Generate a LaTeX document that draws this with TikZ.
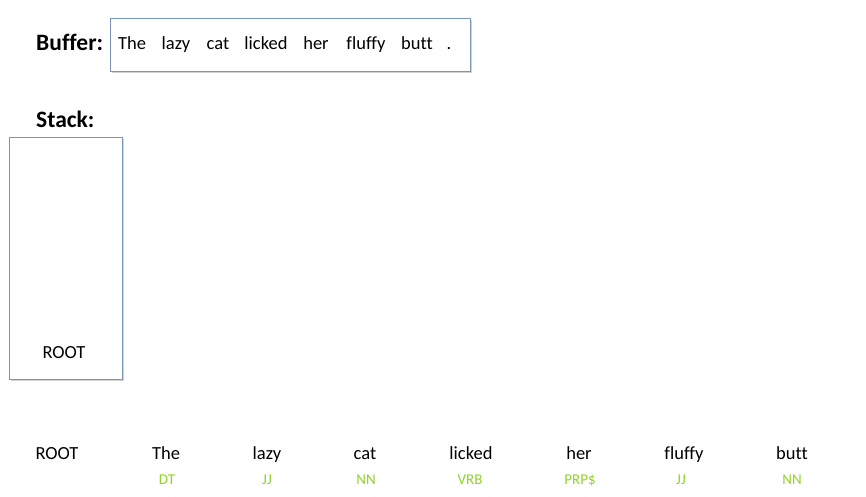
\documentclass[tikz,border=0pt]{standalone}
\usepackage{fontspec}
\setmainfont{Carlito}[Ligatures=NoCommon]
\usetikzlibrary{shadows}
\definecolor{boxblue}{RGB}{120,150,188}
\definecolor{taggreen}{RGB}{145,210,40}
\begin{document}
\begin{tikzpicture}[x=1pt, y=-1pt,
    lbl/.style={font=\fontsize{23.5}{28}\selectfont\bfseries, anchor=base west, inner sep=0pt},
    pane/.style={draw=boxblue, line width=0.8pt, fill=white, anchor=north west,
      drop shadow={shadow xshift=1.2pt, shadow yshift=-1.2pt, opacity=0.35}},
    w/.style={font=\fontsize{18.5}{22}\selectfont, anchor=base, inner sep=0pt},
    tag/.style={font=\fontsize{15}{18}\selectfont, text=taggreen, anchor=base, inner sep=0pt}]
  \useasboundingbox (0,0) rectangle (866,496);
  % buffer
  \node[lbl] (buflbl) at (36,50.5) {Buffer:};
  \node[pane, minimum width=360pt, minimum height=53pt] (buffer) at (110,18) {};
  \foreach \v/\x [count=\i] in {The/132,lazy/176,cat/218,licked/266,her/316,fluffy/366,butt/417,./449}
    \node[w] (b\i) at (\x,49.5) {\v};
  % stack
  \node[lbl] (stklbl) at (36,127) {Stack:};
  \node[pane, minimum width=113pt, minimum height=242pt] (stack) at (9,137) {};
  \node[w] (s1) at (64,358) {ROOT};
  % sentence with tags
  \foreach \v/\x [count=\i] in {ROOT/57,The/166,lazy/267,cat/365,licked/471,her/579,fluffy/684,butt/792}
    \node[w] (t\i) at (\x,459) {\v};
  \foreach \v/\x [count=\i] in {DT/167,JJ/267,NN/366,VRB/470,PRP\$/580,JJ/681,NN/792}
    \node[tag] (p\i) at (\x,484) {\v};
\end{tikzpicture}
\end{document}
